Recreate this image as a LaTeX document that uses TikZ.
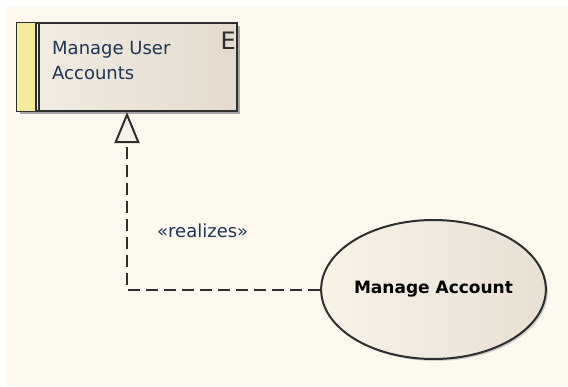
\documentclass[tikz,border=0pt]{standalone}
\usepackage{fontspec}
\setmainfont{DejaVu Sans}
\usetikzlibrary{arrows.meta,shapes.geometric,shadows}

\definecolor{canvas}{HTML}{FDF9EF}
\definecolor{boxleft}{HTML}{F3EDE3}
\definecolor{boxright}{HTML}{E4DBCE}
\definecolor{ucleft}{HTML}{F8F2E7}
\definecolor{ucright}{HTML}{E8E0D3}
\definecolor{strip}{HTML}{F3EC9C}
\definecolor{edge}{HTML}{2E2E2E}
\definecolor{textblue}{HTML}{1E3556}
\definecolor{tipfill}{HTML}{F6F1E8}

\tikzset{
  element/.style={draw=edge,line width=2pt,left color=boxleft,right color=boxright,
    minimum width=220pt,minimum height=88pt,inner sep=0pt,
    drop shadow={shadow xshift=3pt,shadow yshift=-3pt,fill=black!35,opacity=1}},
  usecase/.style={ellipse,draw=edge,line width=2pt,left color=ucleft,right color=ucright,
    minimum width=213pt,minimum height=139pt,inner sep=0pt,
    font=\fontsize{17}{20}\selectfont\bfseries,
    drop shadow={shadow xshift=2pt,shadow yshift=-2pt,fill=black!30,opacity=0.6}},
  realize/.style={draw=edge,line width=2pt,dash pattern=on 12pt off 6pt,
    -{Triangle[open,width=25pt,length=31pt,fill=tipfill]}},
  plain/.style={inner sep=0pt,font=\fontsize{18}{25}\selectfont},
}

\begin{document}
\begin{tikzpicture}[x=1pt,y=-1pt]
\useasboundingbox (0,0) rectangle (568,386);
\fill[white] (0,0) rectangle (568,386);
\fill[canvas] (6,7) rectangle (568,386);

% element
\node[element] (mua) at (127,67) {};
\fill[strip] ([shift={(1,1)}]mua.north west) rectangle ([shift={(19,-1)}]mua.south west);
\draw[edge,line width=1.5pt] ([xshift=20pt]mua.north west) -- ([xshift=20pt]mua.south west);
\draw[edge,line width=1.5pt] ([xshift=23pt]mua.north west) -- ([xshift=23pt]mua.south west);
\node[plain,anchor=base west,align=left,text=textblue] (muaname) at ([shift={(36,57)}]mua.north west) {Manage User\\Accounts};
\node[plain,anchor=base east,font=\fontsize{24}{24}\selectfont,text=edge] (muakind) at ([shift={(-2,27)}]mua.north east) {E};

% use case
\node[usecase] (uc) at (433.5,289.5) {Manage Account};

% realization
\draw[realize] (uc.west) -| (mua.south);
\node[plain,anchor=base west,text=textblue] (rlabel) at (157,237) {«realizes»};
\end{tikzpicture}
\end{document}
